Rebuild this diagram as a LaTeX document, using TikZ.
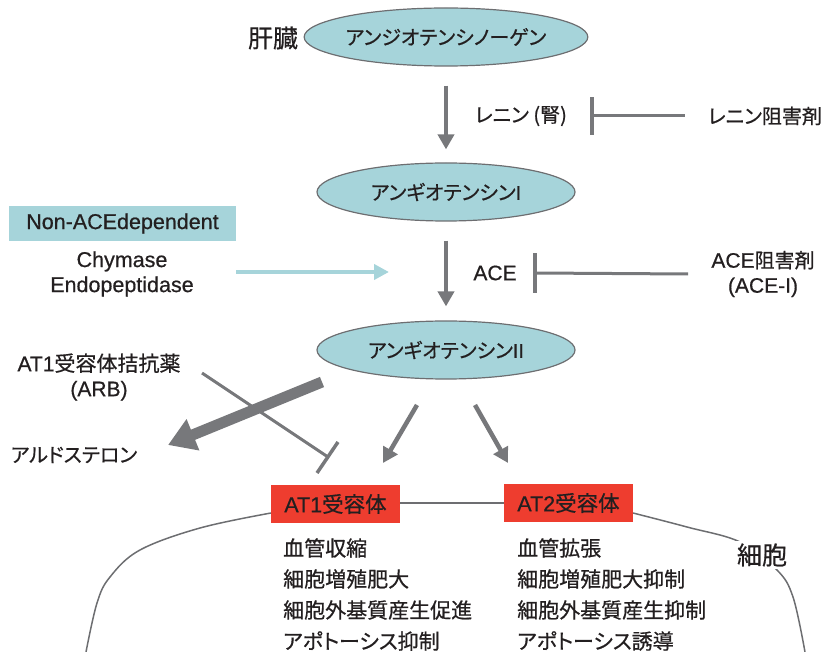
\documentclass[tikz,border=0pt]{standalone}
\usepackage{fontspec}
\setmainfont{Noto Sans CJK JP}[RawFeature={+palt}, FakeBold=0.6]
\newfontfamily\lat{Liberation Sans}[FakeBold=0.6]
\usetikzlibrary{shapes.geometric,arrows.meta}
\definecolor{ellfill}{HTML}{A6D4DA}
\definecolor{edgegray}{HTML}{6D6E71}
\definecolor{arrgray}{HTML}{77787B}
\definecolor{recred}{HTML}{EE3D2F}
\definecolor{txt}{HTML}{231F20}
\begin{document}
\begin{tikzpicture}[x=1pt,y=-1pt,
  ell/.style={ellipse, draw=edgegray, line width=1.2pt, fill=ellfill, minimum width=258pt, minimum height=58pt, inner sep=0pt, font=\fontsize{20}{22}\selectfont, text=txt},
  lbl/.style={font=\fontsize{20}{25}\selectfont, text=txt, inner sep=0pt},
  big/.style={font=\fontsize{25}{28}\selectfont, text=txt, inner sep=1pt},
  flow/.style={draw=arrgray, line width=4.5pt, -{Triangle[length=15pt,width=16pt]}},
  block/.style={draw=arrgray, line width=3pt},
  rec/.style={fill=recred, minimum width=129pt, minimum height=38pt, inner sep=0pt, font=\fontsize{21.5}{23}\selectfont, text=txt},
  item/.style={font=\fontsize{21}{23}\selectfont, text=txt, inner sep=0pt, anchor=west},
  membrane/.style={draw=edgegray, line width=1.5pt}]
\useasboundingbox (0,0) rectangle (828,652);

% cell membrane
\draw[membrane] plot[smooth, tension=0.6] coordinates {(86,652) (97,603) (110,577) (140,550) (200,528) (271,513)};
\draw[membrane] (400,503) -- (504,503);
\draw[membrane] plot[smooth, tension=0.6] coordinates {(633,513) (687,527) (740,542) (777,570) (793,597) (805,652)};

% main cascade
\node[big] (liver) at (273,38) {肝臓};
\node[ell] (agt) at (446,37) {アンジオテンシノーゲン};
\node[ell] (ang1) at (446,192) {アンギオテンシン{\lat I}};
\node[ell] (ang2) at (446,350) {アンギオテンシン{\lat II}};
\draw[flow, shorten <=19pt, shorten >=13pt] (agt) -- (ang1);
\draw[flow, shorten <=19pt, shorten >=14pt] (ang1) -- (ang2);

% renin
\node[lbl] (renin) at (521,116) {レニン ({\lat}腎)};
\node[lbl] (reninI) at (765,116) {レニン阻害剤};
\coordinate (rb) at (592,116);
\draw[block] ([xshift=-23pt]reninI.west) -- (rb);
\draw[draw=arrgray, line width=4pt] ([yshift=-19pt]rb) -- ([yshift=19pt]rb);

% ACE
\node[lbl] (ace) at (495,273) {\lat\fontsize{21}{25}\selectfont ACE};
\node[lbl, align=center] (aceI) at (763,274) {{\lat\fontsize{21}{25}\selectfont ACE}阻害剤\\{\lat\fontsize{21}{25}\selectfont (ACE-I)}};
\coordinate (ab) at (535,273);
\draw[block] ([xshift=-23pt]aceI.west) -- (ab);
\draw[draw=arrgray, line width=4pt] ([yshift=-20pt]ab) -- ([yshift=20pt]ab);

% non-ACE
\node[fill=ellfill, minimum width=227pt, minimum height=35pt, inner sep=0pt, text=txt, font=\lat\fontsize{21.5}{24}\selectfont] (nonace) at (122.5,223.5) {Non-ACEdependent};
\node[inner sep=0pt, text=txt, align=center, font=\lat\fontsize{21.5}{25}\selectfont] (chy) at (122,274) {Chymase\\Endopeptidase};
\coordinate (cs) at (236,272);
\coordinate (ce) at (389,272);
\draw[draw=ellfill, line width=4pt, -{Triangle[length=15pt,width=15pt]}] (cs) -- (ce);

% ARB, aldosterone
\node[align=center, inner sep=0pt, text=txt, font=\fontsize{21}{25}\selectfont] (arb) at (99,377) {{\lat AT1}受容体拮抗薬\\{\lat (ARB)}};
\node[lbl] (aldo) at (74,455) {アルドステロン};
\coordinate (th1) at (322,382);
\coordinate (th2) at (168,445);
\draw[draw=arrgray, line width=11pt, -{Triangle[length=27pt,width=32pt]}] (th1) -- (th2);
\coordinate (arbs) at (202,373);
\coordinate (arbe) at (328,457);
\draw[block] (arbs) -- (arbe);
\draw[draw=arrgray, line width=3.5pt] (338,442) -- (317,473);

% receptors
\node[rec] (at1) at (335.5,504) {{\lat AT1}受容体};
\node[rec] (at2) at (568.5,503) {{\lat AT2}受容体};
\coordinate (r1s) at (417,405);
\coordinate (r1e) at (383,463);
\coordinate (r2s) at (475,405);
\coordinate (r2e) at (508,463);
\draw[flow] (r1s) -- (r1e);
\draw[flow] (r2s) -- (r2e);

% lists
\node[item] (a1) at (283,548) {血管収縮};
\node[item] (a2) at (283,579) {細胞増殖肥大};
\node[item] (a3) at (283,610) {細胞外基質産生促進};
\node[item] (a4) at (283,641) {アポトーシス抑制};
\node[item] (b1) at (517,548) {血管拡張};
\node[item] (b2) at (517,579) {細胞増殖肥大抑制};
\node[item] (b3) at (517,610) {細胞外基質産生抑制};
\node[item] (b4) at (517,641) {アポトーシス誘導};

\node[big, fill=white, inner sep=2pt] (cell) at (762,555) {細胞};
\end{tikzpicture}
\end{document}
